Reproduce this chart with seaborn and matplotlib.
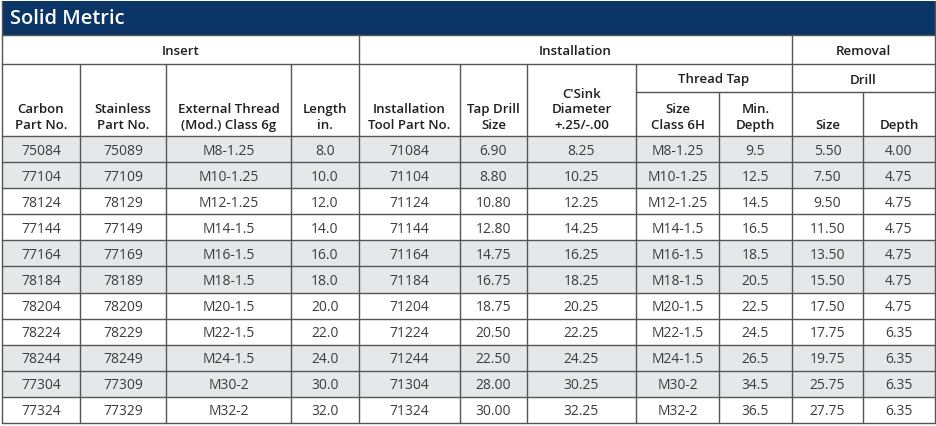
import numpy as np
import pandas as pd
import matplotlib
matplotlib.use("Agg")
import matplotlib.pyplot as plt
import seaborn as sns

sns.set_style("white")
plt.rcParams['font.family'] = ['Open Sans', 'DejaVu Sans']

# table data
carbon = ["75084", "77104", "78124", "77144", "77164", "78184", "78204", "78224", "78244", "77304", "77324"]
stainless = ["75089", "77109", "78129", "77149", "77169", "78189", "78209", "78229", "78249", "77309", "77329"]
ext_thread = ["M8-1.25", "M10-1.25", "M12-1.25", "M14-1.5", "M16-1.5", "M18-1.5", "M20-1.5", "M22-1.5", "M24-1.5", "M30-2", "M32-2"]
length = [8.0, 10.0, 12.0, 14.0, 16.0, 18.0, 20.0, 22.0, 24.0, 30.0, 32.0]
tool_part = ["71084", "71104", "71124", "71144", "71164", "71184", "71204", "71224", "71244", "71304", "71324"]
tap_drill = [6.90, 8.80, 10.80, 12.80, 14.75, 16.75, 18.75, 20.50, 22.50, 28.00, 30.00]
csink = [8.25, 10.25, 12.25, 14.25, 16.25, 18.25, 20.25, 22.25, 24.25, 30.25, 32.25]
tap_size = ["M8-1.25", "M10-1.25", "M12-1.25", "M14-1.5", "M16-1.5", "M18-1.5", "M20-1.5", "M22-1.5", "M24-1.5", "M30-2", "M32-2"]
min_depth = [9.5, 12.5, 14.5, 16.5, 18.5, 20.5, 22.5, 24.5, 26.5, 34.5, 36.5]
drill_size = [5.50, 7.50, 9.50, 11.50, 13.50, 15.50, 17.50, 17.75, 19.75, 25.75, 27.75]
drill_depth = [4.00, 4.75, 4.75, 4.75, 4.75, 4.75, 4.75, 6.35, 6.35, 6.35, 6.35]

col_headers = ["Carbon\nPart No.", "Stainless\nPart No.", "External Thread\n(Mod.) Class 6g", "Length\nin.",
               "Installation\nTool Part No.", "Tap Drill\nSize", "C'Sink\nDiameter\n+.25/-.00",
               "Size\nClass 6H", "Min.\nDepth", "Size", "Depth"]
groups = ["Insert", "Installation", "Removal"]
title = "Solid Metric"

df = pd.DataFrame({
    "carbon": carbon, "stainless": stainless, "thread": ext_thread,
    "length": [f"{v:.1f}" for v in length], "tool": tool_part,
    "tap_drill": [f"{v:.2f}" for v in tap_drill], "csink": [f"{v:.2f}" for v in csink],
    "tap_size": tap_size, "min_depth": [f"{v:.1f}" for v in min_depth],
    "drill_size": [f"{v:.2f}" for v in drill_size], "drill_depth": [f"{v:.2f}" for v in drill_depth],
})

navy = "#0b3566"
gray = "#e6e7e8"
line = "#555555"
txt = "#3c3c3c"
htxt = "#1e1e1e"

xe = [2, 80, 166, 291, 359, 460, 527, 636, 719, 792, 863, 935]
y_title = (2, 36)
y_h1 = 36
y_h2 = 65
y_mid = 93
y_data = 137
rh = (424 - y_data) / len(df)

fig = plt.figure(figsize=(9.37, 4.27), dpi=100)
ax = fig.add_axes([0, 0, 1, 1])
ax.set_xlim(0, 937)
ax.set_ylim(427, 0)
ax.axis("off")

# title bar
ax.add_patch(plt.Rectangle((xe[0], y_title[0]), xe[-1] - xe[0], y_title[1] - y_title[0], color=navy, lw=0))
ax.text(xe[0] + 8, 19.5, title, color="white", fontsize=14.5, va="center", ha="left", fontweight="semibold")

# row shading + cell values
for i in range(len(df)):
    y0 = y_data + i * rh
    if (i // 2) % 2 == 0:
        ax.add_patch(plt.Rectangle((xe[0], y0), xe[-1] - xe[0], rh, color=gray, lw=0))
    for j, col in enumerate(df.columns):
        ax.text((xe[j] + xe[j + 1]) / 2, y0 + rh / 2 + 1, df.iloc[i][col], ha="center", va="center",
                fontsize=10, color=txt)

hkw = dict(ha="center", fontsize=9.5, color=htxt, fontweight="semibold")

# group headers
grp_span = [(0, 4), (4, 9), (9, 11)]
for g, (a, b) in zip(groups, grp_span):
    ax.text((xe[a] + xe[b]) / 2, (y_h1 + y_h2) / 2 + 1, g, va="center", **hkw)
ax.text((xe[7] + xe[9]) / 2, (y_h2 + y_mid) / 2 + 1, "Thread Tap", va="center", **hkw)
ax.text((xe[9] + xe[11]) / 2, (y_h2 + y_mid) / 2 + 1, "Drill", va="center", **hkw)

# column headers, bottom aligned
for j, h in enumerate(col_headers):
    ax.text((xe[j] + xe[j + 1]) / 2, y_data - 5, h, va="bottom", linespacing=1.25,
            multialignment="center", **hkw)

# grid lines
lw = 1.0
for k in range(len(df) + 1):
    y = y_data + k * rh
    ax.plot([xe[0], xe[-1]], [y, y], color=line, lw=lw)
ax.plot([xe[0], xe[-1]], [y_h1, y_h1], color=line, lw=lw)
ax.plot([xe[0], xe[-1]], [y_h2, y_h2], color=line, lw=lw)
ax.plot([xe[7], xe[9]], [y_mid, y_mid], color=line, lw=lw)
ax.plot([xe[9], xe[11]], [y_mid, y_mid], color=line, lw=lw)
for j, x in enumerate(xe):
    if j in (0, 4, 9, 11):
        top = y_h1
    elif j == 8 or j == 10:
        top = y_mid
    else:
        top = y_h2
    ax.plot([x, x], [top, 424], color=line, lw=lw)
ax.plot([xe[0], xe[0]], [y_title[0], y_h1], color=line, lw=lw)
ax.plot([xe[-1], xe[-1]], [y_title[0], y_h1], color=line, lw=lw)

fig.savefig("out.png", dpi=100)
